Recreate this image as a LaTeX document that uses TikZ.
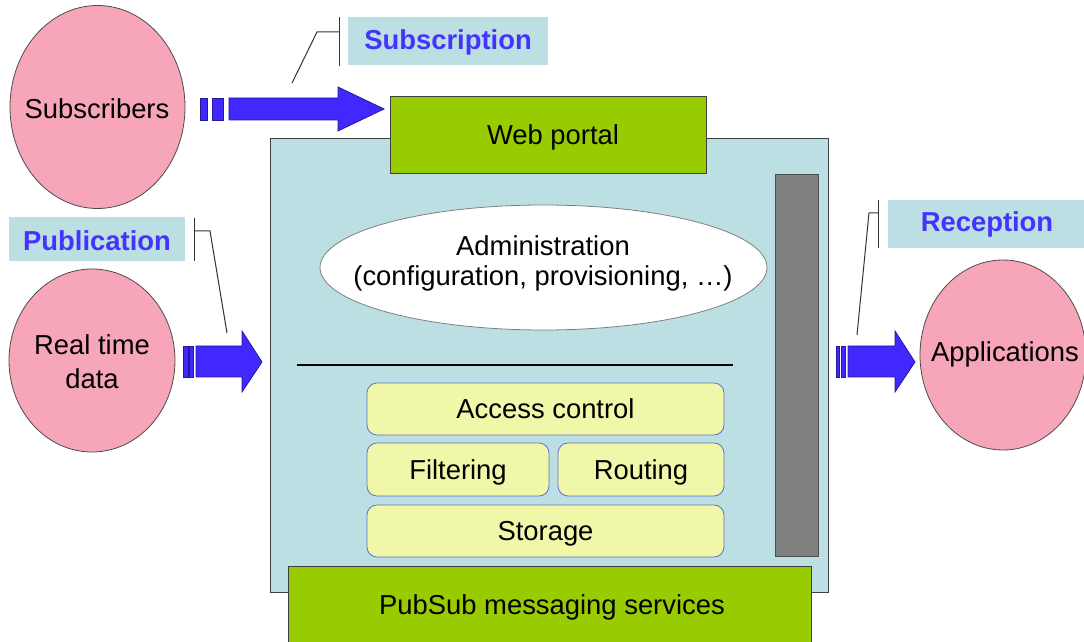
\documentclass[tikz,border=0pt]{standalone}
\usepackage{fontspec}
\setmainfont{Liberation Sans}
\usetikzlibrary{shapes.geometric}
\definecolor{pinkc}{RGB}{247,165,184}
\definecolor{lblue}{RGB}{187,223,227}
\definecolor{greenc}{RGB}{153,204,0}
\definecolor{yellowc}{RGB}{240,247,168}
\definecolor{ybord}{RGB}{102,112,192}
\definecolor{grayc}{RGB}{128,128,128}
\definecolor{arrowc}{RGB}{64,40,255}
\definecolor{labelc}{RGB}{68,51,255}
\begin{document}
\begin{tikzpicture}[x=0.5pt,y=-0.5pt,
  every node/.style={font=\fontsize{13.7}{16}\selectfont},
  actor/.style={ellipse,draw=black!70,fill=pinkc,inner sep=0pt,align=center},
  tag/.style={fill=lblue,inner sep=0pt,font=\fontsize{13.7}{16}\selectfont\bfseries,text=labelc},
  greenbox/.style={draw=black!75,fill=greenc,inner sep=0pt},
  ybox/.style={draw=ybord,fill=yellowc,rounded corners=5pt,inner sep=0pt,text height=9.9pt,text depth=0pt},
  blockarrow/.style={draw=arrowc!60!black,line width=0.4pt,fill=arrowc},
  callout/.style={draw=black!80,line width=0.5pt}]
\useasboundingbox (0,0) rectangle (1084,642);
% main box
\node[draw=black!75,fill=lblue,minimum width=279pt,minimum height=227pt,inner sep=0pt] (main) at (549,365) {};
\node[greenbox,minimum width=158pt,minimum height=38.5pt] (web) at (548,134.5) {};
\node at (553,137) {Web portal};
\node[greenbox,minimum width=261.5pt,minimum height=40pt,anchor=north west] (pubsub) at (288,566) {};
\node at (552,607) {PubSub messaging services};
\node[draw=black!70,fill=grayc,minimum width=21.5pt,minimum height=191pt,inner sep=0pt] (bar) at (797,365.5) {};
% administration
\node[ellipse,draw=black!50,fill=white,minimum width=223.5pt,minimum height=62.5pt,inner sep=0pt] (admin) at (543.5,267.5) {};
\node (adm1) at (543,246) {Administration};
\node (adm2) at (543,278) {(configuration, provisioning, …)};
\coordinate (l1) at (297,365);
\coordinate (l2) at (733,365);
\draw[black,line width=0.6pt] (l1) -- (l2);
% inner boxes
\node[ybox,minimum width=178.5pt,minimum height=26pt] (acc) at (545.5,409) {Access control};
\node[ybox,minimum width=91pt,minimum height=26.5pt] (filt) at (458,469.5) {Filtering};
\node[ybox,minimum width=83pt,minimum height=26.5pt] (rout) at (641,469.5) {Routing};
\node[ybox,minimum width=178.5pt,minimum height=26pt] (stor) at (545.5,531) {Storage};
% actors
\node[actor,minimum width=87.5pt,minimum height=101.5pt] (subs) at (97.5,107) {};
\node at (97,109) {Subscribers};
\node[actor,minimum width=83pt,minimum height=91.5pt] (rtd) at (92,360.5) {};
\node[align=center] at (92,362) {Real time\\[1pt]data};
\node[actor,minimum width=83pt,minimum height=95pt] (apps) at (1003,355) {};
\node at (1005,354) {Applications};
% labels
\node[tag,minimum width=100pt,minimum height=24pt] (subl) at (448,41) {};
\node[font=\fontsize{13.7}{16}\selectfont\bfseries,text=labelc] at (448,42) {Subscription};
\node[tag,minimum width=88pt,minimum height=22pt] (publ) at (97,239.5) {};
\node[font=\fontsize{13.7}{16}\selectfont\bfseries,text=labelc] at (97,241) {Publication};
\node[tag,minimum width=98pt,minimum height=24pt] (recl) at (986,224) {};
\node[font=\fontsize{13.7}{16}\selectfont\bfseries,text=labelc] at (987,224) {Reception};
% arrows
\draw[blockarrow] (200,98) rectangle (207,120);
\draw[blockarrow] (212,98) rectangle (223,120);
\draw[blockarrow] (229,98) -- (338,98) -- (338,87) -- (384,109) -- (338,131) -- (338,120) -- (229,120) -- cycle;
\draw[blockarrow] (183,346) rectangle (188,377);
\draw[blockarrow] (189,346) rectangle (193,377);
\draw[blockarrow] (196,346) -- (242,346) -- (242,331) -- (262,362) -- (242,392) -- (242,377) -- (196,377) -- cycle;
\draw[blockarrow] (836,346) rectangle (839,377);
\draw[blockarrow] (841,346) rectangle (845,377);
\draw[blockarrow] (848,346) -- (895,346) -- (895,331) -- (915,362) -- (895,392) -- (895,377) -- (848,377) -- cycle;
% callouts
\draw[callout] (339,17) -- (339,66);
\draw[callout] (292,83) -- (317,32) -- (339,32);
\draw[callout] (194,218) -- (194,261);
\draw[callout] (194,231) -- (210,231) -- (227,333);
\draw[callout] (878,200) -- (878,248);
\draw[callout] (878,213) -- (869,213) -- (857,335);
\end{tikzpicture}
\end{document}
